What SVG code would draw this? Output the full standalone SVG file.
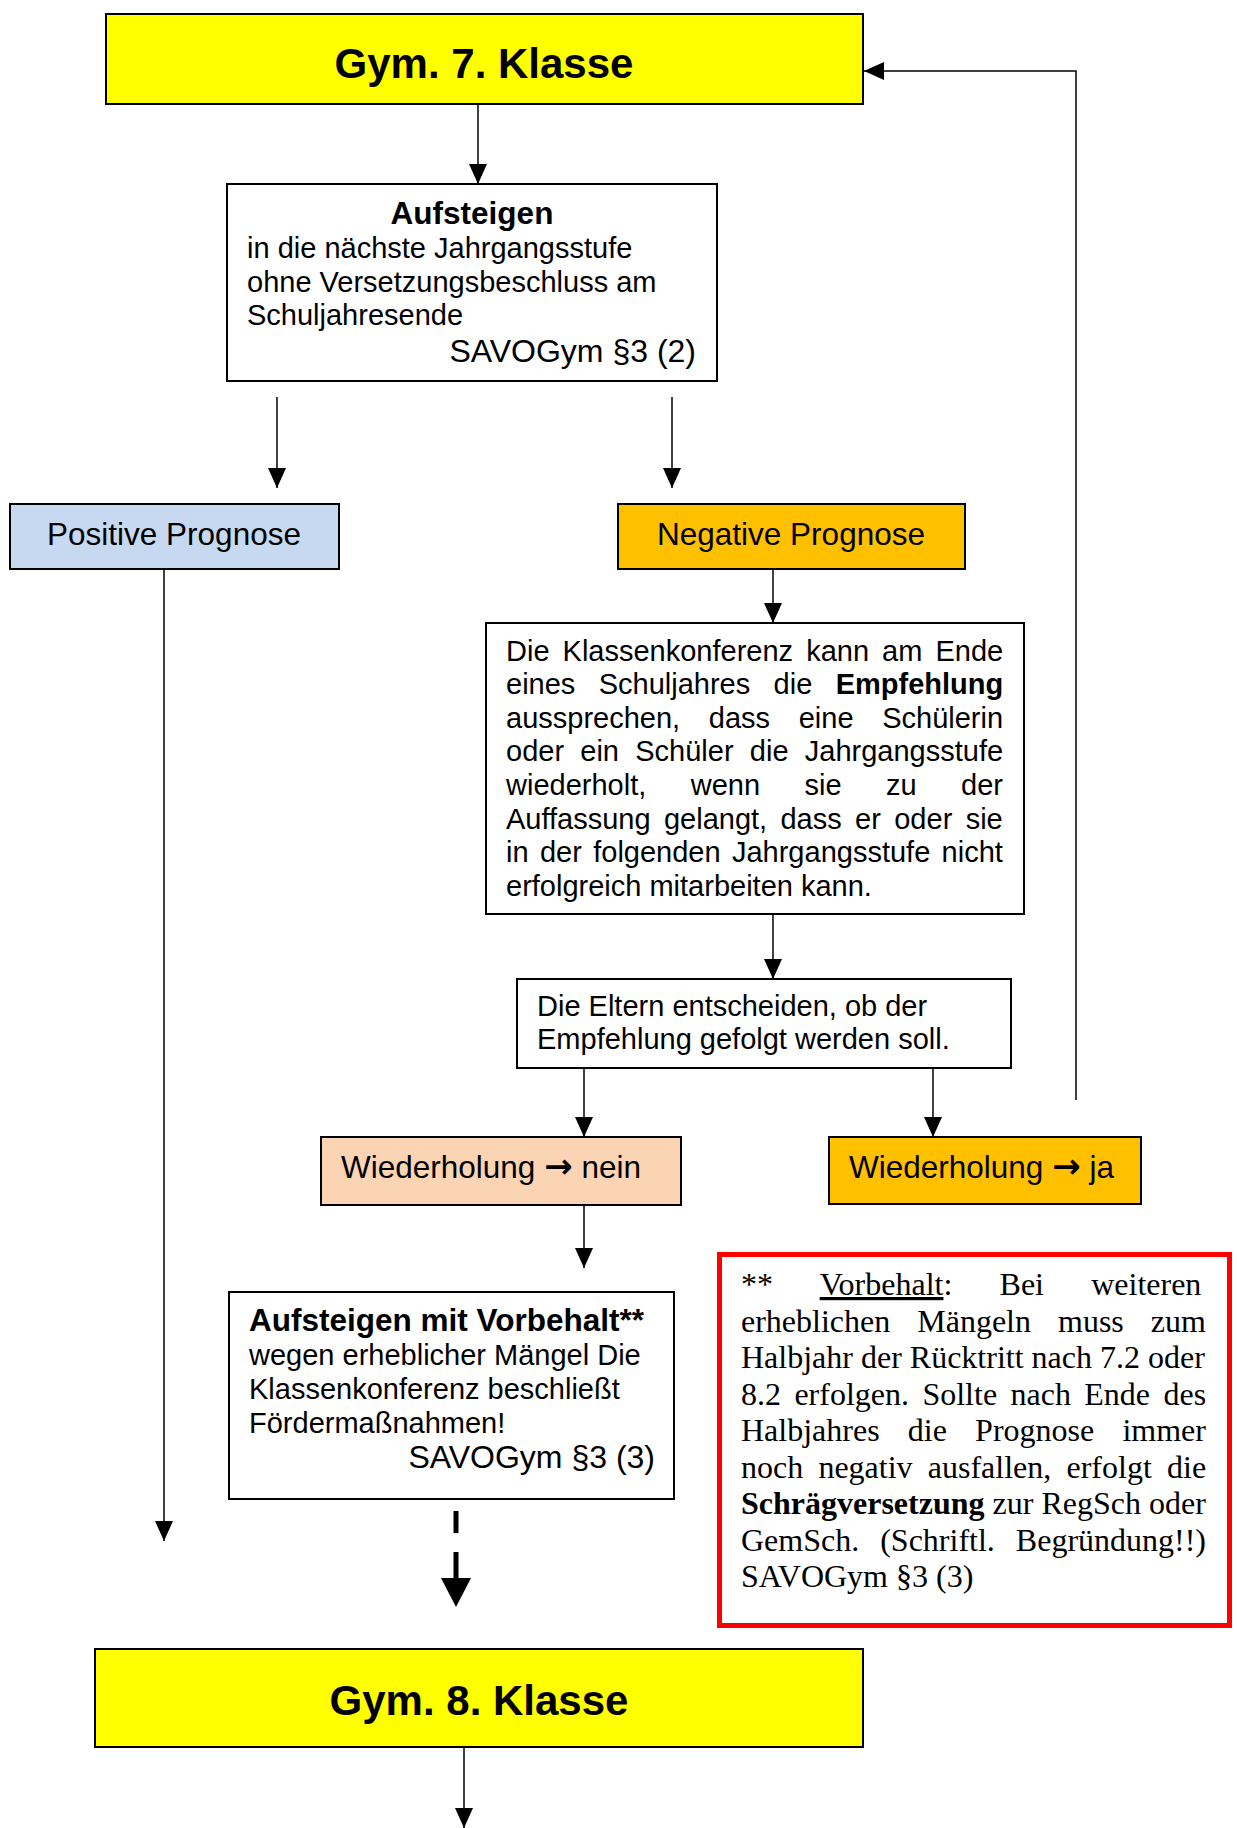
<svg xmlns="http://www.w3.org/2000/svg" width="1237" height="1828" viewBox="0 0 1237 1828">
<defs>
<marker id="ah" viewBox="0 0 20 18" refX="20" refY="9" markerWidth="20" markerHeight="18" markerUnits="userSpaceOnUse" orient="auto"><path d="M0,0 L20,9 L0,18 Z" fill="#000"/></marker>
<style>
.box{stroke:#000;stroke-width:2}
.ln{fill:none;stroke:#000;stroke-width:1.5}
.s{font-family:"Liberation Sans",Arial,"DejaVu Sans",sans-serif;font-size:29px;fill:#000}
.sv{font-family:"Liberation Sans",Arial,sans-serif;font-size:32px;fill:#000}
.l{font-family:"Liberation Sans",Arial,"DejaVu Sans",sans-serif;font-size:31.5px;fill:#000}
.ar{font-family:"DejaVu Sans",sans-serif;font-size:34px;font-weight:bold}
.hb{font-family:"Liberation Sans",Arial,sans-serif;font-size:31.5px;font-weight:bold;fill:#000}
.big{font-family:"Liberation Sans",Arial,sans-serif;font-size:42px;font-weight:bold;fill:#000}
.r{font-family:"Liberation Serif","Times New Roman",serif;font-size:32px;fill:#000}
</style>
</defs>
<rect width="1237" height="1828" fill="#fff"/>

<g id="connectors">
<line class="ln" x1="478" y1="104" x2="478" y2="184" marker-end="url(#ah)"/>
<line class="ln" x1="277" y1="397" x2="277" y2="488" marker-end="url(#ah)"/>
<line class="ln" x1="672" y1="397" x2="672" y2="488" marker-end="url(#ah)"/>
<line class="ln" x1="773" y1="569" x2="773" y2="623" marker-end="url(#ah)"/>
<line class="ln" x1="773" y1="914" x2="773" y2="979" marker-end="url(#ah)"/>
<line class="ln" x1="584" y1="1068" x2="584" y2="1137" marker-end="url(#ah)"/>
<line class="ln" x1="933" y1="1068" x2="933" y2="1137" marker-end="url(#ah)"/>
<polyline class="ln" points="1076,1100 1076,71 864,71" marker-end="url(#ah)"/>
<line class="ln" x1="584" y1="1205" x2="584" y2="1268" marker-end="url(#ah)"/>
<line class="ln" x1="164" y1="569" x2="164" y2="1541" marker-end="url(#ah)"/>
<path d="M456,1511 V1533 M456,1552 V1580" stroke="#000" stroke-width="5" fill="none"/>
<polygon points="441,1578 471,1578 456,1607" fill="#000"/>
<line class="ln" x1="464" y1="1747" x2="464" y2="1828" marker-end="url(#ah)"/>
</g>

<g id="gym7">
<rect class="box" x="106" y="14" width="757" height="90" fill="#ffff00"/>
<text class="big" x="484" y="78" text-anchor="middle">Gym. 7. Klasse</text>
</g>

<g id="aufsteigen">
<rect class="box" x="227" y="184" width="490" height="197" fill="#fff"/>
<text class="hb" x="472" y="224" text-anchor="middle">Aufsteigen</text>
<text class="s" x="247" y="258">in die nächste Jahrgangsstufe</text>
<text class="s" x="247" y="292">ohne Versetzungsbeschluss am</text>
<text class="s" x="247" y="325">Schuljahresende</text>
<text class="sv" x="696" y="362" text-anchor="end">SAVOGym §3 (2)</text>
</g>

<g id="positive">
<rect class="box" x="10" y="504" width="329" height="65" fill="#c6d9f1"/>
<text class="l" x="174" y="545" text-anchor="middle">Positive Prognose</text>
</g>

<g id="negative">
<rect class="box" x="618" y="504" width="347" height="65" fill="#ffc000"/>
<text class="l" x="791" y="545" text-anchor="middle">Negative Prognose</text>
</g>

<g id="klassenkonferenz">
<rect class="box" x="486" y="623" width="538" height="291" fill="#fff"/>
<text class="s" x="506" y="660.5" word-spacing="5">Die Klassenkonferenz kann am Ende</text>
<text class="s" x="506" y="694" word-spacing="15.3">eines Schuljahres die <tspan font-weight="bold">Empfehlung</tspan></text>
<text class="s" x="506" y="727.7" word-spacing="20.6">aussprechen, dass eine Schülerin</text>
<text class="s" x="506" y="761.3" word-spacing="8.2">oder ein Schüler die Jahrgangsstufe</text>
<text class="s" x="506" y="794.9" word-spacing="36.4">wiederholt, wenn sie zu der</text>
<text class="s" x="506" y="828.5" word-spacing="5.3">Auffassung gelangt, dass er oder sie</text>
<text class="s" x="506" y="862.1" word-spacing="3.3">in der folgenden Jahrgangsstufe nicht</text>
<text class="s" x="506" y="895.7">erfolgreich mitarbeiten kann.</text>
</g>

<g id="eltern">
<rect class="box" x="517" y="979" width="494" height="89" fill="#fff"/>
<text class="s" x="537" y="1016">Die Eltern entscheiden, ob der</text>
<text class="s" x="537" y="1049">Empfehlung gefolgt werden soll.</text>
</g>

<g id="wiederholung-nein">
<rect class="box" x="321" y="1137" width="360" height="68" fill="#fbd4b4"/>
<text class="l" x="341" y="1178">Wiederholung <tspan class="ar">→</tspan> nein</text>
</g>

<g id="wiederholung-ja">
<rect class="box" x="829" y="1137" width="312" height="67" fill="#ffc000"/>
<text class="l" x="849" y="1178">Wiederholung <tspan class="ar">→</tspan> ja</text>
</g>

<g id="vorbehalt">
<rect class="box" x="229" y="1292" width="445" height="207" fill="#fff"/>
<text class="hb" x="249" y="1331">Aufsteigen mit Vorbehalt**</text>
<text class="s" x="249" y="1365">wegen erheblicher Mängel Die</text>
<text class="s" x="249" y="1399">Klassenkonferenz beschließt</text>
<text class="s" x="249" y="1433">Fördermaßnahmen!</text>
<text class="sv" x="655" y="1468" text-anchor="end">SAVOGym §3 (3)</text>
</g>

<g id="hinweis">
<rect x="719.5" y="1254.5" width="510" height="371" fill="#fff" stroke="#ff0000" stroke-width="5"/>
<text class="r" x="741" y="1295" word-spacing="39.2">** <tspan text-decoration="underline">Vorbehalt</tspan>: Bei weiteren</text>
<text class="r" x="741" y="1331.5" word-spacing="19">erheblichen Mängeln muss zum</text>
<text class="r" x="741" y="1368">Halbjahr der Rücktritt nach 7.2 oder</text>
<text class="r" x="741" y="1404.5" word-spacing="5.4">8.2 erfolgen. Sollte nach Ende des</text>
<text class="r" x="741" y="1441" word-spacing="20.2">Halbjahres die Prognose immer</text>
<text class="r" x="741" y="1477.5" word-spacing="7.2">noch negativ ausfallen, erfolgt die</text>
<text class="r" x="741" y="1514"><tspan font-weight="bold">Schrägversetzung</tspan> zur RegSch oder</text>
<text class="r" x="741" y="1550.5" word-spacing="13">GemSch. (Schriftl. Begründung!!)</text>
<text class="r" x="741" y="1587">SAVOGym §3 (3)</text>
</g>

<g id="gym8">
<rect class="box" x="95" y="1649" width="768" height="98" fill="#ffff00"/>
<text class="big" x="479" y="1715" text-anchor="middle">Gym. 8. Klasse</text>
</g>
</svg>
